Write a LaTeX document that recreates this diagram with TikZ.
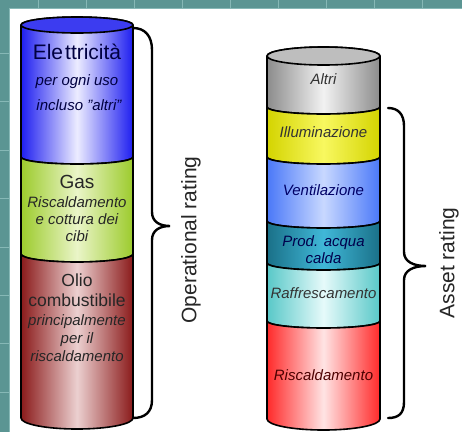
\documentclass[tikz,border=0pt]{standalone}
\usepackage{fontspec}
\setmainfont{Liberation Sans}
\definecolor{frame}{HTML}{5B9593}
\definecolor{frameline}{HTML}{86B8B6}
\definecolor{elE}{HTML}{1E1EF0}\definecolor{elM}{HTML}{ECECFF}\definecolor{elT}{HTML}{3C3CF0}
\definecolor{gaE}{HTML}{9CCB2C}\definecolor{gaM}{HTML}{EAF5C8}
\definecolor{olE}{HTML}{8A1A1A}\definecolor{olM}{HTML}{ECD0D0}
\definecolor{alE}{HTML}{8C8C8C}\definecolor{alM}{HTML}{F2F2F2}\definecolor{alT}{HTML}{BEBEBE}
\definecolor{ilE}{HTML}{D4D400}\definecolor{ilM}{HTML}{F8F860}
\definecolor{veE}{HTML}{4A78F8}\definecolor{veM}{HTML}{C8D8FF}
\definecolor{prE}{HTML}{1A7088}\definecolor{prM}{HTML}{40B8D8}
\definecolor{raE}{HTML}{58C8C8}\definecolor{raM}{HTML}{E6FAFA}
\definecolor{riE}{HTML}{FF2A2A}\definecolor{riM}{HTML}{FFE4E4}
\tikzset{
  x=1pt, y=1pt,
  sect/.style={draw=black, line width=1.6pt, line join=round},
  brace/.style={draw=black, line width=2.4pt, line cap=round},
  lbl/.style={font=\fontsize{15}{15}\selectfont\itshape, inner sep=0pt, text height=0.72em, text depth=0.2em},
  big/.style={font=\fontsize{18}{18}\selectfont, inner sep=0pt, text height=0.72em, text depth=0.2em},
  rating/.style={font=\fontsize{21}{21}\selectfont, inner sep=0pt, rotate=90, text=black!85},
}
\begin{document}
\begin{tikzpicture}
\useasboundingbox (0,0) rectangle (462,-432);
% frame
\fill[frame] (0,0) rectangle (462,-432);
\fill[white] (9,-8) rectangle (462,-432);
\foreach \xx in {38,86,134,182,230,278,326,374,422} \draw[frameline, line width=0.6pt] (\xx,0) -- (\xx,-8);
\foreach \yy in {53,101,150,198,247,295,343,392} \draw[frameline, line width=0.6pt] (0,-\yy) -- (9,-\yy);
\draw[frameline, line width=0.6pt] (9,-8) -- (462,-8);
\draw[frameline, line width=0.6pt] (9,-8) -- (9,-432);

% ===== left cylinder =====
\path[sect, left color=elE, right color=elE, middle color=elM]
  (21,-25) arc[start angle=180, end angle=0, x radius=56, y radius=8]
  -- (133,-157) arc[start angle=0, end angle=-180, x radius=56, y radius=7] -- cycle;
\path[sect, fill=elT] (77,-25) ellipse[x radius=56, y radius=8];
\path[sect, left color=gaE, right color=gaE, middle color=gaM]
  (21,-157) arc[start angle=180, end angle=360, x radius=56, y radius=7]
  -- (133,-254) arc[start angle=0, end angle=-180, x radius=56, y radius=8] -- cycle;
\path[sect, left color=olE, right color=olE, middle color=olM]
  (21,-254) arc[start angle=180, end angle=360, x radius=56, y radius=8]
  -- (133,-418) arc[start angle=0, end angle=-180, x radius=56, y radius=11] -- cycle;

\node[big, text=blue!25!black, font=\fontsize{21}{21}\selectfont] (el) at (77,-57) {Ele\hspace{2pt}ttricità};
\node[lbl, text=blue!25!black] (el1) at (77,-83) {per ogni uso};
\node[lbl, text=blue!25!black] (el2) at (79,-108) {incluso "altri"};
\node[big, text=black!85, font=\fontsize{19}{19}\selectfont] (gas) at (77,-186) {Gas};
\node[lbl, text=black!85] (gas1) at (77,-205) {Riscaldamento};
\node[lbl, text=black!85] (gas2) at (77,-222) {e cottura dei};
\node[lbl, text=black!85] (gas3) at (77,-239) {cibi};
\node[big, text=black!85, font=\fontsize{17.5}{17.5}\selectfont] (ol) at (77,-284) {Olio};
\node[big, text=black!85, font=\fontsize{17.5}{17.5}\selectfont] (ol1) at (77,-304) {combustibile};
\node[lbl, text=black!85] (ol2) at (77,-323) {principalmente};
\node[lbl, text=black!85] (ol3) at (77,-341) {per il};
\node[lbl, text=black!85] (ol4) at (77,-359) {riscaldamento};

% left brace
\coordinate (lbA) at (133,-28);
\coordinate (lbB) at (133,-418);
\draw[brace] (lbA) .. controls (145,-28) and (152,-36) .. (152,-50) -- (152,-212)
  .. controls (152,-222) and (160,-226) .. (170,-226)
  .. controls (160,-226) and (152,-230) .. (152,-240) -- (152,-400)
  .. controls (152,-412) and (145,-418) .. (lbB);
\node[rating] (op) at (191,-240) {Operational rating};

% ===== right cylinder =====
\path[sect, left color=alE, right color=alE, middle color=alM]
  (267,-56) arc[start angle=180, end angle=0, x radius=56.5, y radius=9]
  -- (380,-107) arc[start angle=0, end angle=-180, x radius=56.5, y radius=7] -- cycle;
\path[sect, fill=alT] (323.5,-56) ellipse[x radius=56.5, y radius=9];
\path[sect, left color=ilE, right color=ilE, middle color=ilM]
  (267,-107) arc[start angle=180, end angle=360, x radius=56.5, y radius=7]
  -- (380,-157) arc[start angle=0, end angle=-180, x radius=56.5, y radius=7] -- cycle;
\path[sect, left color=veE, right color=veE, middle color=veM]
  (267,-157) arc[start angle=180, end angle=360, x radius=56.5, y radius=7]
  -- (380,-221) arc[start angle=0, end angle=-180, x radius=56.5, y radius=7] -- cycle;
\path[sect, left color=prE, right color=prE, middle color=prM]
  (267,-221) arc[start angle=180, end angle=360, x radius=56.5, y radius=7]
  -- (380,-263) arc[start angle=0, end angle=-180, x radius=56.5, y radius=7] -- cycle;
\path[sect, left color=raE, right color=raE, middle color=raM]
  (267,-263) arc[start angle=180, end angle=360, x radius=56.5, y radius=7]
  -- (380,-321) arc[start angle=0, end angle=-180, x radius=56.5, y radius=7] -- cycle;
\path[sect, left color=riE, right color=riE, middle color=riM]
  (267,-321) arc[start angle=180, end angle=360, x radius=56.5, y radius=7]
  -- (380,-419) arc[start angle=0, end angle=-180, x radius=56.5, y radius=11] -- cycle;

\node[lbl, text=black!80] (al) at (323.5,-82) {Altri};
\node[lbl, text=black!80] (il) at (323.5,-135) {Illuminazione};
\node[lbl, text=blue!40!black] (ve) at (323.5,-193) {Ventilazione};
\node[lbl, text=blue!30!black] (pr1) at (323.5,-244) {Prod. acqua};
\node[lbl, text=blue!30!black] (pr2) at (323.5,-261) {calda};
\node[lbl, text=black!80] (ra) at (323.5,-296) {Raffrescamento};
\node[lbl, text=red!30!black] (ri) at (323.5,-378) {Riscaldamento};

% right brace
\coordinate (rbA) at (388,-108);
\coordinate (rbB) at (388,-418);
\draw[brace] (rbA) .. controls (398,-108) and (404,-114) .. (404,-126) -- (404,-252)
  .. controls (404,-262) and (414,-266) .. (426,-266)
  .. controls (414,-266) and (404,-270) .. (404,-280) -- (404,-402)
  .. controls (404,-414) and (398,-418) .. (rbB);
\node[rating] (as) at (449,-263) {Asset rating};
\end{tikzpicture}
\end{document}
